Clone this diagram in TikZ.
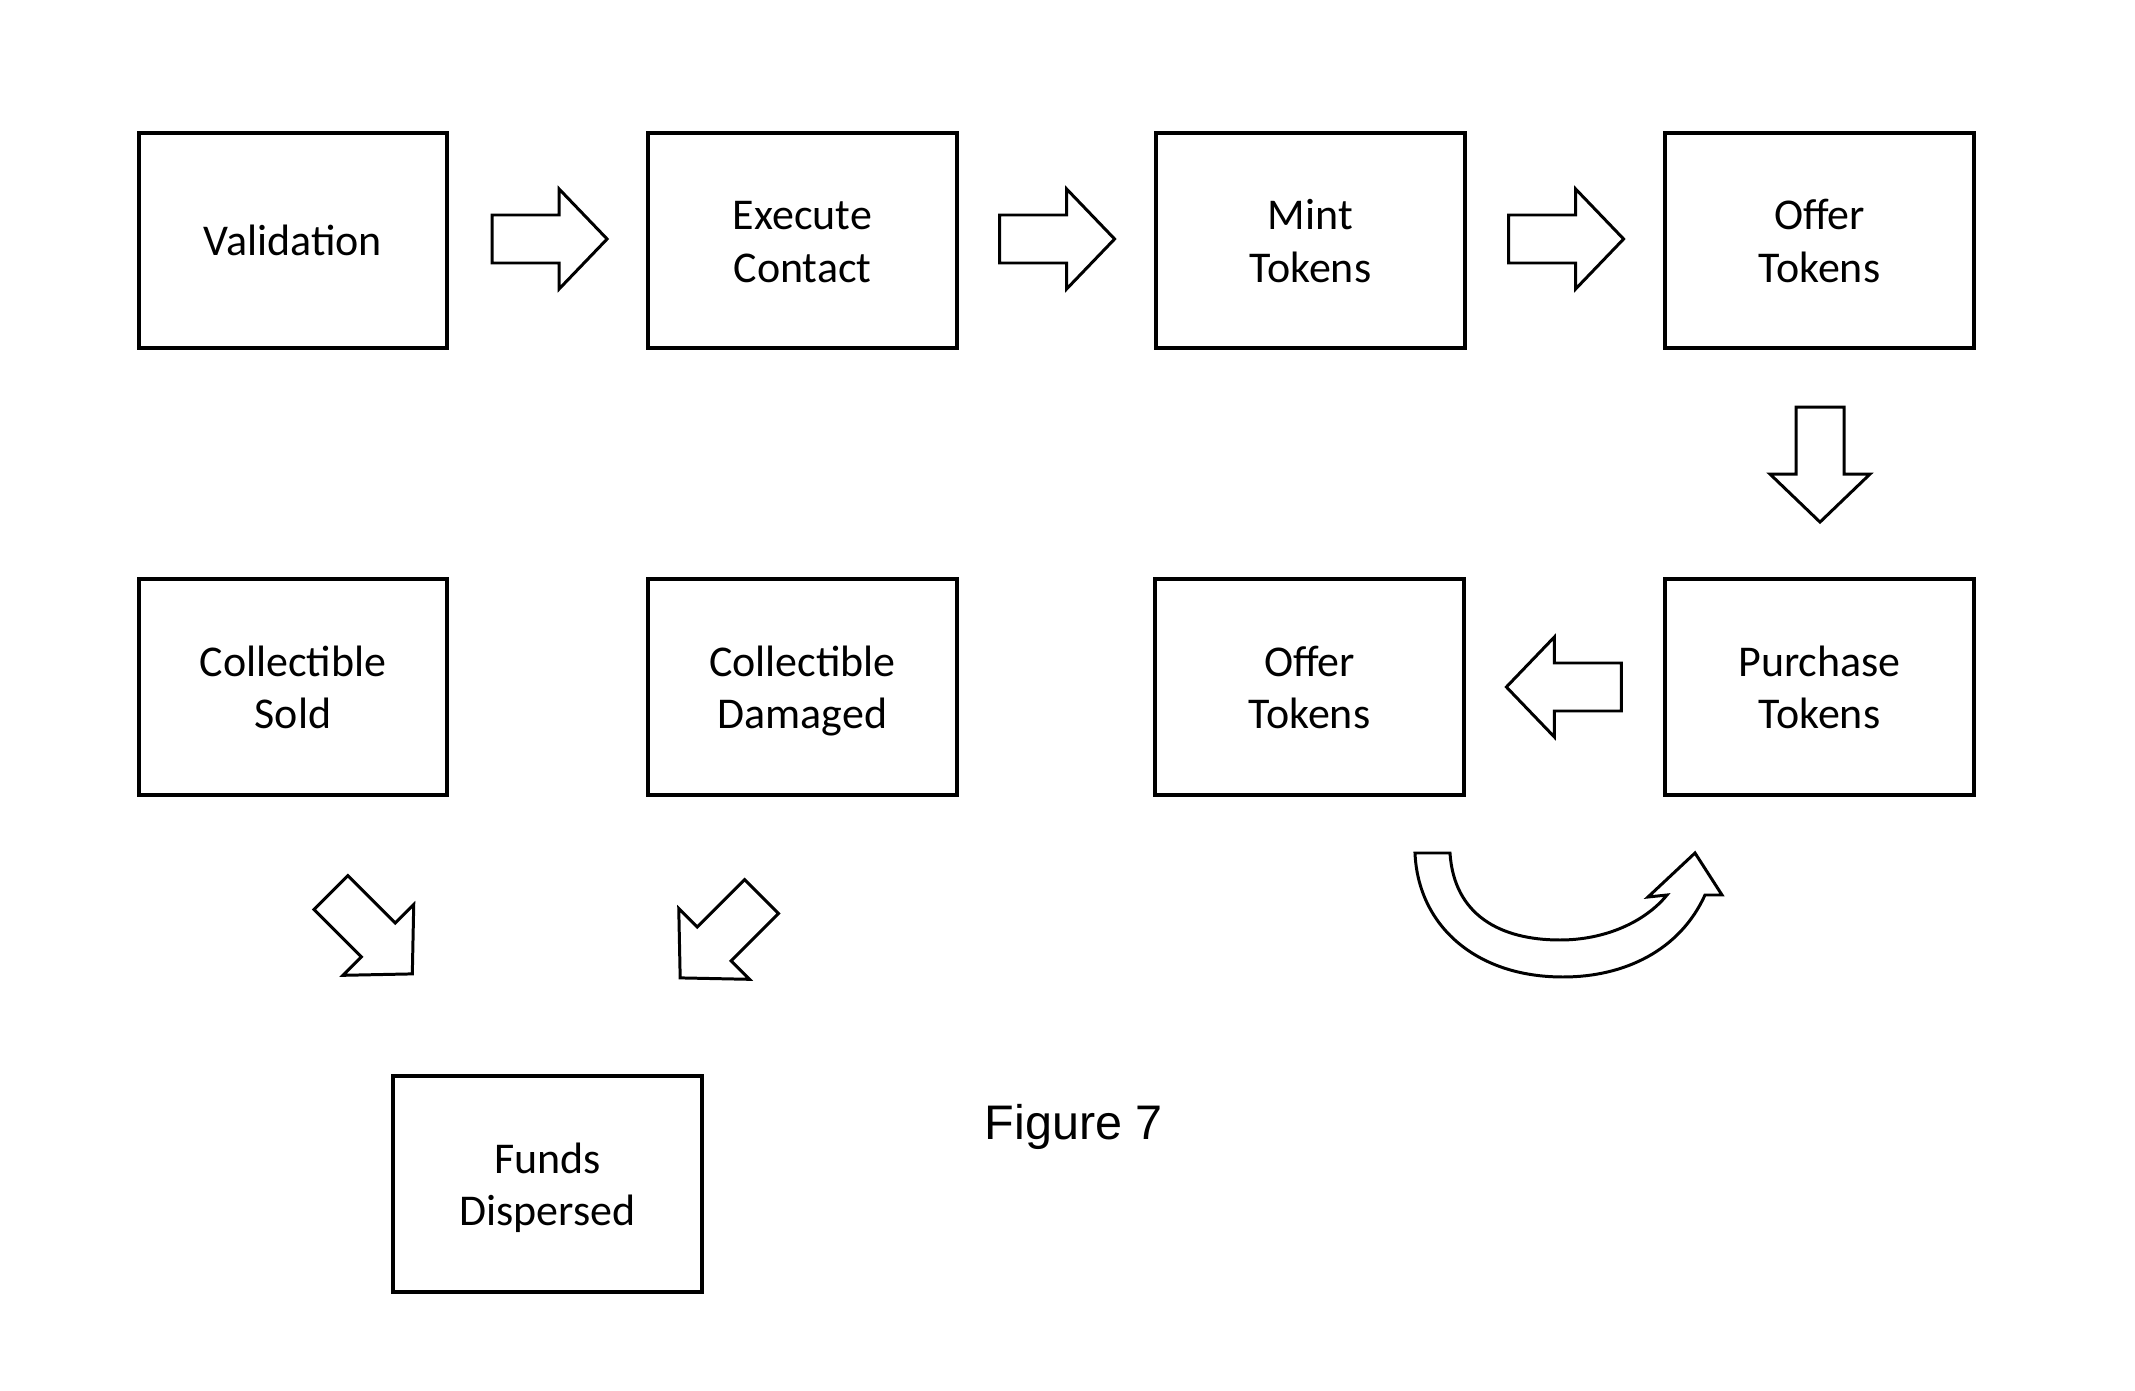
\documentclass[tikz,border=0pt]{standalone}
\usepackage{fontspec}
\setmainfont{Carlito}
\newfontfamily\figfont{Liberation Sans}
\usetikzlibrary{calc}
\newcommand\boxln[1]{\rule[-1.4pt]{0pt}{11.6pt}\raisebox{0pt}[\height][0pt]{#1}}
\tikzset{
  box/.style={draw=black, line width=1.15pt, rectangle, minimum width=3.08cm, minimum height=2.15cm,
    align=center, inner sep=0pt, font=\fontsize{12.5}{15}\selectfont},
  arrowline/.style={draw=black, line width=0.85pt, line join=miter, fill=white},
  blockarrow/.pic={\draw[arrowline] (0,-24) -- (67,-24) -- (67,-50) -- (115,0) -- (67,50) -- (67,24) -- (0,24) -- cycle;}
}
\begin{document}
\begin{tikzpicture}[x=0.01cm, y=-0.01cm]
\useasboundingbox (0,0) rectangle (2135,1391);
% row 1
\node[box] (val) at (293,240.5) {\boxln{Validation}};
\node[box] (exec) at (802.5,240.5) {\boxln{Execute}\\\boxln{Contact}};
\node[box] (mint) at (1310.5,240.5) {\boxln{Mint}\\\boxln{Tokens}};
\node[box] (offerA) at (1819.5,240.5) {\boxln{Offer}\\\boxln{Tokens}};
% row 2
\node[box] (sold) at (293,687) {\boxln{Collectible}\\\boxln{Sold}};
\node[box] (damaged) at (802.5,687) {\boxln{Collectible}\\\boxln{Damaged}};
\node[box] (offerB) at (1309.5,687) {\boxln{Offer}\\\boxln{Tokens}};
\node[box] (purchase) at (1819.5,687) {\boxln{Purchase}\\\boxln{Tokens}};
% row 3
\node[box] (funds) at (547.5,1184) {\boxln{Funds}\\\boxln{Dispersed}};
% block arrows
\pic at ($(val.east)+(43,-1.5)$) {blockarrow};
\pic at ($(exec.east)+(41,-1.5)$) {blockarrow};
\pic at ($(mint.east)+(42,-1.5)$) {blockarrow};
\pic[rotate=-90] at ($(offerA.south)+(0.5,57)$) {blockarrow};
\pic[rotate=180] at ($(purchase.west)+(-42,0)$) {blockarrow};
\pic[rotate=-45] at ($(sold.south)+(38,96)$) {blockarrow};
\pic[rotate=-135] at ($(damaged.south)+(-41,100)$) {blockarrow};
% curved arrow
\draw[arrowline] (1415,853) -- (1450,853)
  .. controls (1454,915) and (1500,940) .. (1560,940)
  .. controls (1605,940) and (1645,922) .. (1667,895)
  -- (1648,897) -- (1695,853) -- (1722,895) -- (1705,895)
  .. controls (1680,950) and (1625,977) .. (1563,977)
  .. controls (1475,977) and (1418,925) .. (1415,853) -- cycle;
% caption
\node[anchor=base, inner sep=0pt, font=\figfont\fontsize{13.8}{16}\selectfont] (cap) at (1074,1139) {Figure 7};
\end{tikzpicture}
\end{document}
